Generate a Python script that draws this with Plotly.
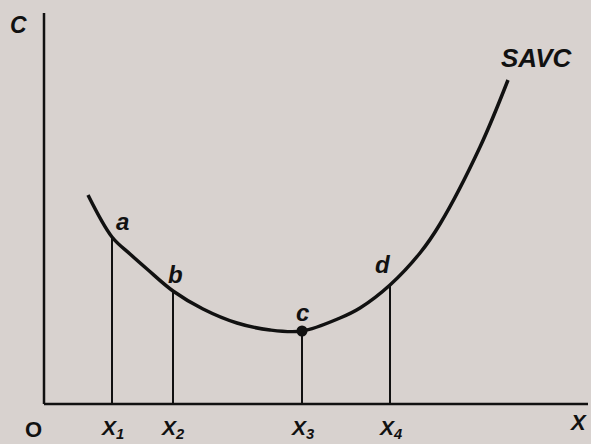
import plotly.graph_objects as go

# Short-run average variable cost curve (output on x, cost on y)
curve_x = [4.4, 6.8, 8.6, 10.3, 12.9, 15.9, 19.3, 22.6, 25.8, 29.6, 31.6, 34.6, 37.6, 39.6, 43.6, 46.4]
curve_y = [20.9, 16.7, 15.0, 13.5, 11.3, 9.5, 8.1, 7.4, 7.3, 8.6, 9.6, 11.9, 15.1, 18.0, 25.7, 32.4]

# Marked output levels and their cost on the curve
point_names = ["a", "b", "c", "d"]
tick_names = ["X<sub>1</sub>", "X<sub>2</sub>", "X<sub>3</sub>", "X<sub>4</sub>"]
point_x = [6.8, 12.9, 25.8, 34.6]
point_y = [16.7, 11.3, 7.3, 11.9]

x_axis_end = 54.4
y_axis_end = 39.1

ink = "#111111"
paper = "#d8d2cf"
font_family = "Liberation Sans, Arial, sans-serif"

fig = go.Figure()

# Curve
fig.add_trace(go.Scatter(
    x=curve_x, y=curve_y, mode="lines",
    line=dict(color=ink, width=3.5, shape="spline", smoothing=1.0),
    hoverinfo="skip", showlegend=False,
))

# Drop lines from each marked point to the output axis
for px, py in zip(point_x, point_y):
    fig.add_trace(go.Scatter(
        x=[px, px], y=[0, py], mode="lines",
        line=dict(color=ink, width=2),
        hoverinfo="skip", showlegend=False,
    ))

# Minimum point c
fig.add_trace(go.Scatter(
    x=[point_x[2]], y=[point_y[2]], mode="markers",
    marker=dict(color=ink, size=11),
    hoverinfo="skip", showlegend=False,
))

# Axes
fig.add_shape(type="line", x0=0, y0=0, x1=x_axis_end, y1=0,
              line=dict(color=ink, width=2.5))
fig.add_shape(type="line", x0=0, y0=0, x1=0, y1=y_axis_end,
              line=dict(color=ink, width=2.5))


def label(x, y, text, size=22, style="italic"):
    fig.add_annotation(x=x, y=y, text=text, showarrow=False,
                       font=dict(family=font_family, size=size, color=ink,
                                 weight="bold", style=style))


# Point labels
label_dx = [1.0, 0.2, 0.0, -0.7]
label_dy = [1.6, 1.7, 1.9, 2.1]
for name, px, py, dx, dy in zip(point_names, point_x, point_y, label_dx, label_dy):
    label(px + dx, py + dy, name, size=24)

# Output tick labels
for name, px in zip(tick_names, point_x):
    label(px, -2.5, name, size=21)

label(-1.1, -2.5, "O", size=22, style="normal")
label(53.4, -1.8, "X")
label(-2.6, 37.9, "C", size=23)
label(49.3, 34.6, "SAVC", size=26)

fig.update_layout(
    width=591, height=444,
    margin=dict(l=0, r=0, t=0, b=0),
    paper_bgcolor=paper, plot_bgcolor=paper,
    xaxis=dict(range=[-4.4, 54.7], visible=False, fixedrange=True),
    yaxis=dict(range=[-4.0, 40.4], visible=False, fixedrange=True),
)

fig.write_html("out.html")
